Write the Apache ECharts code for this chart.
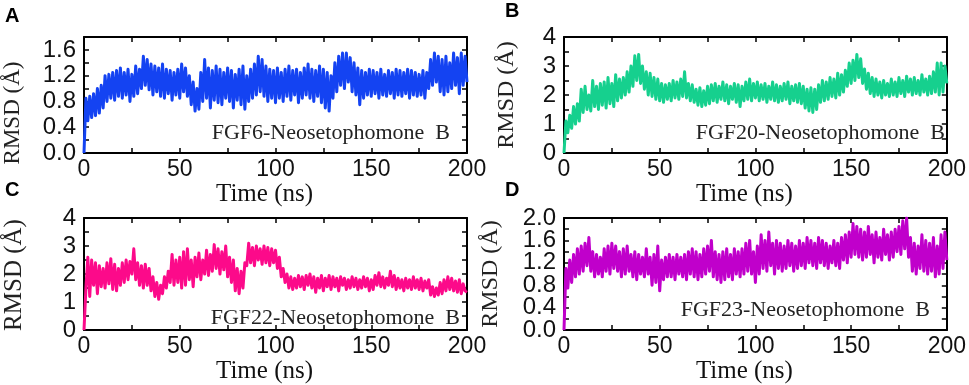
<!DOCTYPE html>
<html>
<head>
<meta charset="utf-8">
<title>RMSD of FGF–Neosetophomone B complexes</title>
<script src="https://cdn.jsdelivr.net/npm/echarts@6/dist/echarts.min.js"></script>
<style>
  html, body { margin: 0; padding: 0; background: #fff; }
  #chartsRmsd { width: 969px; height: 385px; }
</style>
</head>
<body>
<div id="chartsRmsd"></div>
<script>
const rmsdFGF6 = [
  0.00,
  0.85, 0.50, 0.88, 0.55, 0.92,  0.58, 1.00, 0.62, 1.05, 0.70,
  1.20, 0.80, 1.22, 0.85, 1.25,  0.82, 1.28, 0.88, 1.32, 0.85,
  1.25, 0.90, 1.30, 0.80, 1.22,  0.88, 1.35, 0.92, 1.30, 1.00,
  1.50, 1.05, 1.45, 0.98, 1.38,  0.90, 1.35, 0.95, 1.32, 0.88,
  1.38, 0.85, 1.30, 0.92, 1.28,  0.82, 1.25, 0.90, 1.30, 0.85,
  1.38, 0.95, 1.32, 0.88, 1.20,  0.75, 1.10, 0.65, 1.00, 0.68,
  1.25, 0.80, 1.45, 0.85, 1.32,  0.70, 1.28, 0.82, 1.35, 0.78,
  1.30, 0.75, 1.25, 0.85, 1.32,  0.80, 1.28, 0.70, 1.22, 0.82,
  1.30, 0.75, 1.35, 0.68, 1.20,  0.80, 1.30, 0.85, 1.38, 0.90,
  1.50, 0.95, 1.45, 0.88, 1.35,  0.80, 1.30, 0.85, 1.28, 0.78,
  1.32, 0.85, 1.25, 0.80, 1.30,  0.88, 1.35, 0.82, 1.28, 0.90,
  1.30, 0.78, 1.25, 0.85, 1.32,  0.90, 1.38, 0.85, 1.30, 0.80,
  1.28, 0.88, 1.35, 0.78, 1.30,  0.70, 1.25, 0.65, 1.20, 0.85,
  1.40, 0.95, 1.50, 1.05, 1.55,  1.00, 1.55, 1.10, 1.48, 0.95,
  1.40, 0.90, 1.32, 0.75, 1.28,  0.85, 1.25, 0.90, 1.30, 0.88,
  1.28, 0.92, 1.25, 0.85, 1.30,  0.90, 1.22, 0.88, 1.28, 0.92,
  1.25, 0.85, 1.30, 0.90, 1.28,  0.88, 1.25, 0.92, 1.30, 0.85,
  1.28, 0.90, 1.25, 0.88, 1.22,  0.90, 1.28, 0.85, 1.25, 1.00,
  1.45, 1.05, 1.55, 1.10, 1.50,  0.95, 1.45, 0.90, 1.50, 0.95,
  1.40, 1.00, 1.55, 1.05, 1.48,  0.92, 1.55, 1.05, 1.50, 1.10
];
const rmsdFGF20 = [
  0.00,
  1.10, 0.70, 1.30, 0.85, 1.60,  1.00, 1.70, 1.10, 2.20, 1.40,
  2.30, 1.50, 2.00, 1.45, 2.50,  1.60, 2.30, 1.50, 2.40, 1.65,
  2.45, 1.55, 2.60, 1.70, 2.40,  1.60, 2.70, 1.80, 2.55, 1.90,
  2.60, 2.00, 2.80, 2.10, 3.00,  2.30, 3.35, 2.50, 3.40, 2.40,
  3.00, 2.20, 2.80, 2.00, 2.75,  1.95, 2.60, 1.85, 2.55, 1.80,
  2.40, 1.75, 2.35, 1.85, 2.40,  1.80, 2.50, 1.90, 2.45, 1.85,
  2.55, 1.95, 2.80, 1.90, 2.40,  1.80, 2.35, 1.75, 2.20, 1.65,
  2.25, 1.60, 2.15, 1.65, 2.30,  1.70, 2.35, 1.80, 2.40, 1.75,
  2.30, 1.85, 2.45, 1.80, 2.35,  1.70, 2.30, 1.85, 2.40, 1.75,
  2.35, 1.60, 2.30, 1.80, 2.45,  1.85, 2.55, 1.80, 2.40, 1.90,
  2.45, 1.80, 2.35, 1.85, 2.40,  1.75, 2.30, 1.85, 2.45, 1.80,
  2.35, 1.75, 2.30, 1.80, 2.40,  1.85, 2.45, 1.70, 2.30, 1.80,
  2.35, 1.75, 2.40, 1.70, 2.30,  1.55, 2.20, 1.45, 2.25, 1.40,
  2.20, 1.50, 2.35, 1.75, 2.50,  1.80, 2.45, 1.85, 2.60, 1.95,
  2.55, 1.90, 2.75, 2.00, 2.70,  2.10, 2.85, 2.30, 3.10, 2.40,
  3.20, 2.50, 3.40, 2.60, 3.25,  2.40, 2.90, 2.20, 2.75, 2.05,
  2.60, 1.95, 2.55, 2.00, 2.45,  1.90, 2.50, 2.00, 2.40, 1.95,
  2.55, 2.00, 2.45, 1.95, 2.60,  2.05, 2.50, 1.95, 2.65, 2.10,
  2.55, 2.00, 2.60, 2.05, 2.50,  2.00, 2.70, 2.10, 2.55, 2.00,
  2.65, 2.05, 2.80, 2.10, 3.10,  2.00, 3.10, 2.10, 3.00, 2.40
];
const rmsdFGF22 = [
  0.00,
  1.50, 2.60, 1.20, 2.50, 1.60,  2.40, 1.30, 2.30, 1.55, 2.20,
  1.50, 2.40, 1.65, 2.55, 1.45,  2.35, 1.40, 2.20, 1.60, 2.40,
  1.70, 2.50, 1.80, 2.45, 2.00,  2.90, 1.80, 2.40, 1.60, 2.30,
  1.50, 2.35, 1.60, 2.20, 1.40,  1.90, 1.20, 1.70, 1.10, 1.60,
  1.30, 1.90, 1.50, 2.10, 1.70,  2.70, 1.60, 2.50, 1.70, 2.60,
  1.50, 2.80, 1.60, 2.90, 1.80,  2.50, 1.55, 2.60, 1.90, 2.75,
  1.80, 2.50, 2.00, 2.85, 1.95,  2.70, 2.10, 3.05, 2.20, 2.90,
  2.00, 2.80, 2.15, 3.00, 1.90,  2.60, 1.70, 2.50, 1.40, 2.20,
  1.30, 2.10, 1.50, 2.40, 2.30,  3.10, 2.40, 2.95, 2.30, 3.00,
  2.50, 2.90, 2.35, 3.00, 2.40,  2.95, 2.30, 2.90, 2.40, 2.85,
  2.20, 2.60, 1.90, 2.20, 1.70,  2.00, 1.50, 1.90, 1.45, 1.85,
  1.50, 1.95, 1.55, 1.90, 1.45,  1.95, 1.60, 2.00, 1.50, 1.90,
  1.35, 1.85, 1.50, 1.95, 1.40,  1.85, 1.55, 1.95, 1.45, 1.90,
  1.55, 1.85, 1.40, 1.90, 1.60,  1.85, 1.45, 1.80, 1.50, 1.90,
  1.55, 1.85, 1.45, 1.80, 1.50,  1.90, 1.55, 1.85, 1.40, 1.80,
  1.45, 1.95, 1.60, 2.05, 1.55,  1.90, 1.50, 1.85, 1.60, 2.10,
  1.55, 1.95, 1.45, 1.85, 1.50,  1.80, 1.40, 1.85, 1.50, 1.80,
  1.45, 1.90, 1.50, 1.80, 1.45,  1.85, 1.40, 1.75, 1.50, 1.80,
  1.25, 1.55, 1.20, 1.50, 1.25,  1.70, 1.30, 1.80, 1.40, 1.90,
  1.45, 1.85, 1.40, 1.75, 1.35,  1.80, 1.30, 1.65, 1.40, 1.35
];
const rmsdFGF23 = [
  0.00,
  1.10, 0.75, 1.25, 0.85, 1.35,  0.95, 1.45, 1.00, 1.50, 1.05,
  1.55, 1.15, 1.65, 1.05, 1.40,  0.95, 1.35, 1.00, 1.30, 0.95,
  1.45, 1.05, 1.50, 1.00, 1.55,  1.10, 1.50, 1.05, 1.40, 0.95,
  1.45, 1.00, 1.50, 1.05, 1.35,  0.95, 1.40, 0.90, 1.35, 1.00,
  1.30, 0.95, 1.45, 1.00, 1.30,  0.80, 1.35, 0.85, 1.50, 0.70,
  1.25, 0.90, 1.30, 0.95, 1.35,  0.95, 1.30, 0.90, 1.35, 1.00,
  1.30, 0.95, 1.35, 0.90, 1.40,  1.00, 1.45, 0.95, 1.40, 0.90,
  1.35, 0.95, 1.45, 1.00, 1.50,  1.05, 1.60, 0.95, 1.40, 0.90,
  1.35, 0.85, 1.40, 0.90, 1.45,  0.95, 1.35, 0.90, 1.45, 1.00,
  1.40, 0.95, 1.45, 1.00, 1.55,  1.05, 1.60, 1.00, 1.40, 0.85,
  1.50, 1.00, 1.70, 1.10, 1.60,  1.05, 1.75, 1.15, 1.55, 1.00,
  1.60, 1.10, 1.55, 1.05, 1.50,  1.10, 1.60, 1.15, 1.55, 1.05,
  1.50, 1.10, 1.60, 1.15, 1.55,  1.10, 1.65, 1.20, 1.60, 1.15,
  1.55, 1.10, 1.65, 1.20, 1.60,  1.15, 1.55, 1.10, 1.50, 1.20,
  1.60, 1.15, 1.55, 1.10, 1.65,  1.25, 1.70, 1.20, 1.75, 1.30,
  1.90, 1.35, 1.85, 1.30, 1.80,  1.25, 1.75, 1.30, 1.85, 1.35,
  1.70, 1.20, 1.75, 1.30, 1.65,  1.25, 1.80, 1.35, 1.70, 1.25,
  1.75, 1.30, 1.80, 1.40, 1.85,  1.35, 1.95, 1.45, 2.00, 1.30,
  1.65, 1.05, 1.55, 1.00, 1.50,  1.10, 1.70, 1.05, 1.60, 1.00,
  1.55, 1.05, 1.65, 0.95, 1.50,  1.00, 1.70, 1.10, 1.75, 1.25
];

// panel setup (one entry per subplot)
const panelNames = ['FGF6-Neosetophomone  B', 'FGF20-Neosetophomone  B', 'FGF22-Neosetophomone  B', 'FGF23-Neosetophomone  B'];
const panelColors = ['#1443f2', '#16d08e', '#fc0a8a', '#c000cb'];
const panelYMax = [1.8, 4, 4, 2.0];
const panelYStep = [0.2, 0.5, 0.5, 0.2];   // tick spacing
const panelYLabelStep = [0.4, 1, 1, 0.4];  // labelled ticks
const panelSeries = [rmsdFGF6, rmsdFGF20, rmsdFGF22, rmsdFGF23];
const xTickLabels = [0, 50, 100, 150, 200];

const grids = [
  {left: 84, top: 37, width: 383, height: 116},
  {left: 564, top: 37, width: 384, height: 116},
  {left: 84, top: 218, width: 383, height: 115},
  {left: 564, top: 218, width: 384, height: 115}
];

const SANS = 'Liberation Sans';
const SERIF = 'Liberation Serif';
const axisLine = {show: true, onZero: false, lineStyle: {color: '#000', width: 2}};
const axisTick = {show: true, inside: true, length: 5, lineStyle: {color: '#000', width: 1.5}};

let xAxes = [], yAxes = [], series = [];
grids.forEach((g, i) => {
  const row = i < 2 ? 0 : 1;
  xAxes.push({
    gridIndex: i, type: 'value', position: 'bottom',
    min: 0, max: 200, interval: 25,
    axisLine: axisLine, axisTick: axisTick, splitLine: {show: false},
    axisLabel: {
      margin: 5, fontFamily: SANS, fontSize: 23, color: '#111',
      formatter: v => xTickLabels.indexOf(v) >= 0 ? String(v) : ''
    },
    name: 'Time (ns)', nameLocation: 'middle', nameGap: row === 0 ? 22 : 13,
    nameTextStyle: {fontFamily: SERIF, fontSize: 25, color: '#111', padding: [0, 22, 0, 0]}
  });
  xAxes.push({
    gridIndex: i, type: 'value', position: 'top',
    min: 0, max: 200, interval: 25,
    axisLine: axisLine, axisTick: axisTick, splitLine: {show: false},
    axisLabel: {show: false}
  });
  const lblStep = panelYLabelStep[i];
  yAxes.push({
    gridIndex: i, type: 'value', position: 'left',
    min: 0, max: panelYMax[i], interval: panelYStep[i],
    axisLine: axisLine, axisTick: axisTick, splitLine: {show: false},
    axisLabel: {
      margin: 8, fontFamily: SANS, fontSize: 24, color: '#111',
      formatter: v => {
        const k = v / lblStep;
        if (Math.abs(k - Math.round(k)) > 1e-6) return '';
        return lblStep < 1 ? v.toFixed(1) : String(Math.round(v));
      }
    }
  });
  yAxes.push({
    gridIndex: i, type: 'value', position: 'right',
    min: 0, max: panelYMax[i], interval: panelYStep[i],
    axisLine: axisLine, axisTick: axisTick, splitLine: {show: false},
    axisLabel: {show: false}
  });
  series.push({
    type: 'line',
    xAxisIndex: 2 * i, yAxisIndex: 2 * i,
    showSymbol: false,
    clip: true,
    lineStyle: {color: panelColors[i], width: 3, join: 'round'},
    data: panelSeries[i].map((v, t) => [t, v])
  });
});

// texts: panel letters, y titles, in-plot labels
const letterPos = [[5, 16, 'A'], [505, 11, 'B'], [5, 190, 'C'], [505, 190, 'D']];
const yTitlePos = [[13, 113, 23], [507, 95, 24], [14, 275, 25], [491, 274, 24]];
const namePos = [[450, 133], [945, 133], [460, 318], [930, 310]];

let graphics = [];
letterPos.forEach(p => graphics.push({
  type: 'text', x: p[0], y: p[1],
  style: {text: p[2], fontFamily: SANS, fontWeight: 'bold', fontSize: 20, fill: '#000', textVerticalAlign: 'middle'}
}));
yTitlePos.forEach(p => graphics.push({
  type: 'text', x: p[0], y: p[1], rotation: Math.PI / 2,
  style: {text: 'RMSD (Å)', fontFamily: SERIF, fontSize: p[2], fill: '#222', textAlign: 'center', textVerticalAlign: 'middle'}
}));
namePos.forEach((p, i) => graphics.push({
  type: 'text', x: p[0], y: p[1], z: 10,
  style: {text: panelNames[i], fontFamily: SERIF, fontSize: 22, fill: '#222', textAlign: 'right', textVerticalAlign: 'middle'}
}));

let myChart = echarts.init(document.getElementById('chartsRmsd'), null, {renderer: 'canvas'});
myChart.setOption({
  animation: false,
  backgroundColor: '#fff',
  grid: grids,
  xAxis: xAxes,
  yAxis: yAxes,
  series: series,
  graphic: graphics
});
</script>
</body>
</html>
